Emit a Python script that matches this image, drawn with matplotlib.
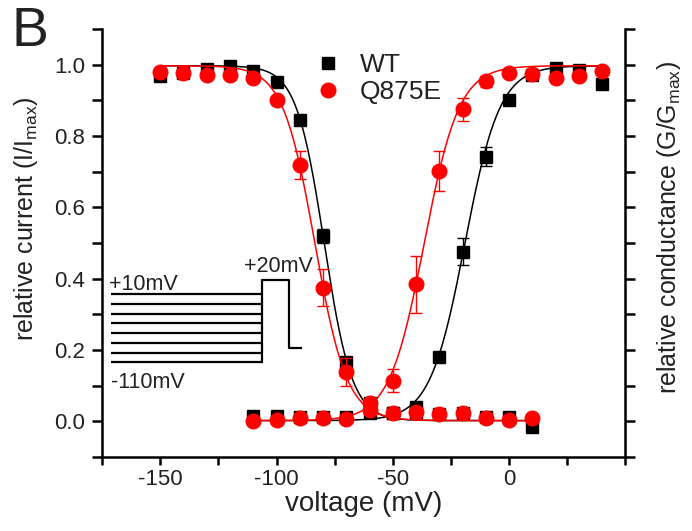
import numpy as np
import matplotlib
matplotlib.use("Agg")
import matplotlib.pyplot as plt
from matplotlib.ticker import MultipleLocator, NullFormatter, FormatStrFormatter
from matplotlib.lines import Line2D

plt.rcParams['font.family'] = ['Liberation Sans', 'DejaVu Sans']
plt.rcParams['axes.unicode_minus'] = False

# steady-state inactivation (I/Imax), -150..+10 mV
v_inact = np.arange(-150, 11, 10)
wt_inact = [0.968, 0.977, 0.988, 0.995, 0.981, 0.950, 0.846, 0.519, 0.166,
            0.050, 0.022, 0.025, 0.021, 0.023, 0.012, 0.012, -0.016]
wt_inact_err = [0.010, 0.005, 0.005, 0.005, 0.005, 0.008, 0.008, 0.020, 0.015,
                0.010, 0.005, 0.005, 0.005, 0.005, 0.005, 0.005, 0.005]
mut_inact = [0.979, 0.977, 0.972, 0.970, 0.963, 0.902, 0.719, 0.375, 0.138,
             0.052, 0.022, 0.026, 0.021, 0.023, 0.008, 0.005, 0.008]
mut_inact_err = [0.010, 0.010, 0.010, 0.008, 0.010, 0.010, 0.039, 0.053, 0.040,
                 0.010, 0.008, 0.008, 0.008, 0.008, 0.008, 0.005, 0.005]

# activation (G/Gmax), -110..+40 mV
v_act = np.arange(-110, 41, 10)
wt_act = [0.015, 0.014, 0.012, 0.012, 0.012, 0.022, 0.024, 0.040, 0.181, 0.476,
          0.742, 0.900, 0.970, 0.992, 0.986, 0.947]
wt_act_err = [0.005, 0.005, 0.005, 0.005, 0.005, 0.005, 0.005, 0.008, 0.012, 0.039,
              0.027, 0.008, 0.005, 0.005, 0.008, 0.005]
mut_act = [0.000, 0.003, 0.010, 0.010, 0.006, 0.031, 0.114, 0.384, 0.702, 0.875,
           0.953, 0.977, 0.975, 0.963, 0.968, 0.982]
mut_act_err = [0.008, 0.008, 0.008, 0.008, 0.008, 0.010, 0.033, 0.079, 0.057, 0.032,
               0.015, 0.005, 0.005, 0.005, 0.005, 0.005]

# Boltzmann fit parameters (V1/2, k)
wt_inact_fit = (-79.5, 6.0)
mut_inact_fit = (-83.5, 6.9)
wt_act_fit = (-19.0, 7.5)
mut_act_fit = (-36.5, 7.5)


def boltz(v, vh, k, rising):
    s = 1 if rising else -1
    return 0.995 / (1 + np.exp(s * (vh - v) / k)) + 0.002


# pulse protocol levels for inset sketch (drawn in data space)
step_levels = [0.358, 0.330, 0.302, 0.275, 0.247, 0.219, 0.191, 0.166]

fig = plt.figure(figsize=(6.92, 5.31), dpi=100)
ax = fig.add_axes([0.1474, 0.1394, 0.7565, 0.806])

vf_in = np.linspace(-150, 10, 400)
vf_act = np.linspace(-110, 40, 400)

black, red, txt = '#000000', '#ff0000', '#222222'
eb = dict(elinewidth=1, capsize=4, capthick=1)
ax.errorbar(v_inact, wt_inact, yerr=wt_inact_err, fmt='s', color=black, ms=8.5, zorder=3, **eb)
ax.errorbar(v_act, wt_act, yerr=wt_act_err, fmt='s', color=black, ms=8.5, zorder=3, **eb)
ax.plot(vf_in, boltz(vf_in, *wt_inact_fit, False), color=black, lw=1.1, zorder=4)
ax.plot(vf_act, boltz(vf_act, *wt_act_fit, True), color=black, lw=1.1, zorder=4)

ax.errorbar(v_inact, mut_inact, yerr=mut_inact_err, fmt='o', color=red, ms=10.5, zorder=5, **eb)
ax.errorbar(v_act, mut_act, yerr=mut_act_err, fmt='o', color=red, ms=10.5, zorder=5, **eb)
ax.plot(vf_in, boltz(vf_in, *mut_inact_fit, False), color=red, lw=1.1, zorder=6)
ax.plot(vf_act, boltz(vf_act, *mut_act_fit, True), color=red, lw=1.1, zorder=6)

# inset: voltage protocol
for lv in step_levels:
    ax.plot([-171.3, -106.4], [lv, lv], color=black, lw=1.6, solid_capstyle='butt')
ax.plot([-106.4, -106.4, -94.5, -94.5, -89.6],
        [step_levels[-1], 0.396, 0.396, 0.206, 0.206], color=black, lw=1.6)
ax.text(-171.8, 0.384, '+10mV', fontsize=15.5, va='center', ha='left', color=txt)
ax.text(-171.3, 0.11, '-110mV', fontsize=15.5, va='center', ha='left', color=txt)
ax.text(-113.8, 0.433, '+20mV', fontsize=15.5, va='center', ha='left', color=txt)

ax.set_xlim(-175, 50)
ax.set_ylim(-0.1, 1.1)
ax.xaxis.set_minor_locator(MultipleLocator(25))
ax.yaxis.set_minor_locator(MultipleLocator(0.1))
ax.set_xticks([-150, -100, -50, 0])
ax.set_yticks([0.0, 0.2, 0.4, 0.6, 0.8, 1.0])
ax.yaxis.set_major_formatter(FormatStrFormatter('%.1f'))

for side in ['left', 'bottom']:
    ax.spines[side].set_linewidth(1.8)
ax.spines['top'].set_visible(False)
ax.spines['right'].set_visible(False)
ax.tick_params(which='both', direction='out', length=7, width=1.8, labelsize=16,
               labelcolor=txt)
ax.tick_params(axis='y', which='both', pad=5)
ax.tick_params(axis='x', which='both', pad=3, length=6)

ax2 = ax.twinx()
ax2.set_ylim(-0.1, 1.1)
ax2.yaxis.set_major_locator(MultipleLocator(0.1))
ax2.yaxis.set_major_formatter(NullFormatter())
ax2.spines['right'].set_linewidth(1.8)
for side in ['top', 'left', 'bottom']:
    ax2.spines[side].set_visible(False)
ax2.tick_params(direction='out', length=7, width=1.8)
ax2.set_ylabel('relative conductance (G/G$_{\\mathregular{max}}$)', fontsize=18, color=txt)
ax2.yaxis.set_label_coords(1.057, 0.536)

ax.set_xlabel('voltage (mV)', fontsize=20, labelpad=0.5, color=txt)
ax.set_ylabel('relative current (I/I$_{\\mathregular{max}}$)', fontsize=18, color=txt)
ax.yaxis.set_label_coords(-0.118, 0.556)

handles = [Line2D([], [], ls='none', marker='s', ms=8.5, color=black),
           Line2D([], [], ls='none', marker='o', ms=10.5, color=red)]
leg = ax.legend(handles, ['WT', 'Q875E'], loc='upper left', bbox_to_anchor=(0.406, 0.943),
                frameon=False, fontsize=19, handlelength=1, handletextpad=0.72,
                labelspacing=0.1, borderpad=0, borderaxespad=0)
for t in leg.get_texts():
    t.set_color(txt)

fig.text(0.016, 0.988, 'B', fontsize=40, va='top', ha='left', color=txt)

fig.savefig('out.png', dpi=100)
